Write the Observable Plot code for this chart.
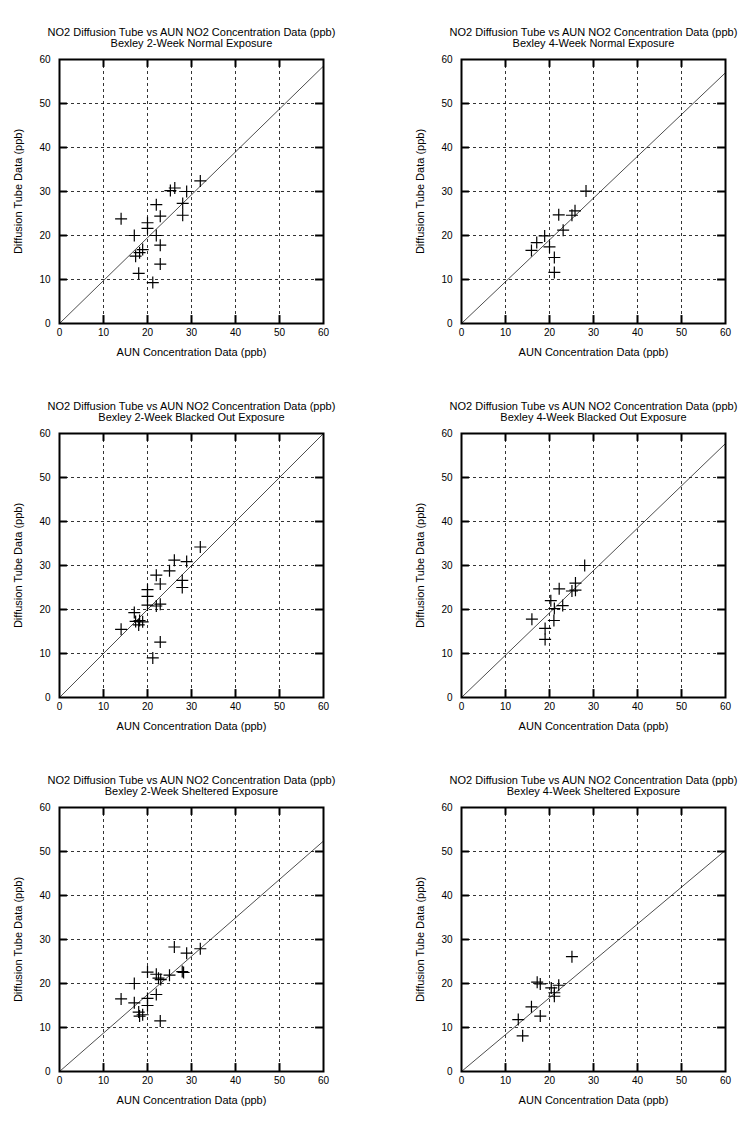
<!DOCTYPE html>
<html><head><meta charset="utf-8">
<script src="https://cdn.jsdelivr.net/npm/d3@7"></script>
<script src="https://cdn.jsdelivr.net/npm/@observablehq/plot@0.6"></script>
<style>
body{margin:0;background:#fff}
#c{position:relative;width:753px;height:1122px;background:#fff}
#c svg{position:absolute}
</style>
</head><body><div id="c"></div>
<script>
const mainTitle = "NO2 Diffusion Tube vs AUN NO2 Concentration Data (ppb)";
const subTitles = [
  "Bexley 2-Week Normal Exposure",
  "Bexley 4-Week Normal Exposure",
  "Bexley 2-Week Blacked Out Exposure",
  "Bexley 4-Week Blacked Out Exposure",
  "Bexley 2-Week Sheltered Exposure",
  "Bexley 4-Week Sheltered Exposure"
];
const xLabel = "AUN Concentration Data (ppb)";
const yLabel = "Diffusion Tube Data (ppb)";
const tickValues = [0, 10, 20, 30, 40, 50, 60];
const gridValues = [10, 20, 30, 40, 50];

// AUN (x) and diffusion tube (y) values per panel
const aun2wNormal  = [14, 17, 17.3, 18, 18.2, 18.9, 20, 20, 21.2, 22, 22, 22.9, 22.9, 22.9, 25.2, 26.2, 28.9, 28, 28, 32];
const tube2wNormal = [23.8, 20, 15.3, 11.4, 16.1, 16.8, 22.9, 21.6, 9.3, 27, 20, 24.4, 17.8, 13.5, 30.2, 30.8, 30, 27.3, 24.6, 32.4];

const aun4wNormal  = [15.9, 17.1, 18.9, 20, 21.1, 21.1, 22.1, 23.1, 25.1, 25.8, 28.3];
const tube4wNormal = [16.6, 18.4, 19.9, 17.4, 15, 11.6, 24.7, 21.2, 24.6, 25.6, 30.1];

const aun2wBlack  = [14, 17, 17.3, 18, 18.2, 18.9, 20, 20, 20, 21.2, 22, 22, 22.9, 22.9, 22.9, 25, 26.1, 28.9, 27.9, 27.9, 32];
const tube2wBlack = [15.5, 19.3, 17.3, 16.5, 17.5, 17.2, 24.5, 23, 21, 9, 27.8, 20.8, 25.8, 21.2, 12.6, 28.8, 31.2, 30.9, 26.6, 25, 34.2];

const aun4wBlack  = [16, 19, 19, 20.3, 21.1, 21, 23, 22.2, 25.1, 25.9, 25.9, 28];
const tube4wBlack = [17.8, 15.7, 13.2, 22, 20.2, 17.5, 20.9, 24.7, 24.2, 24.4, 26, 30];

const aun2wShelter  = [14, 17, 17, 18, 18.2, 18.9, 20, 20, 20, 22, 22, 22.5, 23, 25, 22.9, 26.1, 28.9, 27.9, 28.2, 32];
const tube2wShelter = [16.5, 20, 15.6, 13.5, 12.6, 12.9, 22.6, 16.6, 15, 17.5, 22.1, 21.2, 20.9, 21.9, 11.5, 28.3, 26.9, 22.7, 22.5, 27.9];

const aun4wShelter  = [12.9, 13.9, 15.9, 17.9, 17.2, 17.9, 20.4, 21.1, 21.1, 22.1, 25.1];
const tube4wShelter = [11.8, 8.1, 14.7, 12.6, 20.3, 19.9, 19, 17.9, 17.1, 19.6, 26.1];

// fitted line slopes (through origin) per panel
const fitSlopes = [0.975, 0.95, 1.0, 0.962, 0.873, 0.838];

const panelsX = [aun2wNormal, aun4wNormal, aun2wBlack, aun4wBlack, aun2wShelter, aun4wShelter];
const panelsY = [tube2wNormal, tube4wNormal, tube2wBlack, tube4wBlack, tube2wShelter, tube4wShelter];

const cross = {
  draw(context, size) {
    const r = Math.sqrt(size / Math.PI);
    context.moveTo(-r, 0); context.lineTo(r, 0);
    context.moveTo(0, -r); context.lineTo(0, r);
  }
};

const font = "'Liberation Sans', Arial, Helvetica, sans-serif";
const container = document.getElementById("c");
const colLeft = [0, 401];
const colMargin = [59, 60];
const rowTop = [14, 388, 762];
const frameSize = 264;
const W = 376, MT = 45, MB = 45;
const tickLen = 1.8;

for (let i = 0; i < 6; i++) {
  const col = i % 2, row = Math.floor(i / 2);
  const data = panelsX[i].map((x, j) => ({x, y: panelsY[i][j]}));
  const fit = [{x: 0, y: 0}, {x: 60, y: 60 * fitSlopes[i]}];
  const ml = colMargin[col];
  const chart = Plot.plot({
    width: W,
    height: MT + frameSize + MB,
    marginLeft: ml,
    marginRight: W - ml - frameSize,
    marginTop: MT,
    marginBottom: MB,
    style: {fontFamily: font, fontSize: "10px", background: "white", color: "black"},
    x: {domain: [0, 60], ticks: tickValues, tickSize: 0, tickPadding: 5, label: null},
    y: {domain: [0, 60], ticks: tickValues, tickSize: 0, tickPadding: 9, label: null},
    marks: [
      Plot.ruleX(gridValues, {x: d => d, stroke: "black", strokeWidth: 0.8, strokeDasharray: "3,3"}),
      Plot.ruleY(gridValues, {y: d => d, stroke: "black", strokeWidth: 0.8, strokeDasharray: "3,3"}),
      Plot.ruleX(gridValues, {x: d => d, y1: 0, y2: tickLen, stroke: "black", strokeWidth: 2}),
      Plot.ruleX(gridValues, {x: d => d, y1: 60 - tickLen, y2: 60, stroke: "black", strokeWidth: 2}),
      Plot.ruleY(gridValues, {y: d => d, x1: 0, x2: tickLen, stroke: "black", strokeWidth: 2}),
      Plot.ruleY(gridValues, {y: d => d, x1: 60 - tickLen, x2: 60, stroke: "black", strokeWidth: 2}),
      Plot.line(fit, {x: "x", y: "y", stroke: "black", strokeWidth: 0.7}),
      Plot.dot(data, {x: "x", y: "y", symbol: cross, r: 6, stroke: "black", fill: "none", strokeWidth: 1.2}),
      Plot.frame({stroke: "black", strokeWidth: 2}),
      Plot.text([mainTitle], {text: d => d, frameAnchor: "top", lineAnchor: "middle", textAnchor: "middle", dy: -27, fontSize: 11}),
      Plot.text([subTitles[i]], {text: d => d, frameAnchor: "top", lineAnchor: "middle", textAnchor: "middle", dy: -16.5, fontSize: 11}),
      Plot.text([xLabel], {text: d => d, frameAnchor: "bottom", lineAnchor: "middle", textAnchor: "middle", dy: 29, fontSize: 11}),
      Plot.text([yLabel], {text: d => d, frameAnchor: "left", lineAnchor: "middle", textAnchor: "middle", dx: -41, rotate: -90, fontSize: 11})
    ]
  });
  chart.style.left = colLeft[col] + "px";
  chart.style.top = rowTop[row] + "px";
  container.appendChild(chart);
}
</script></body></html>
